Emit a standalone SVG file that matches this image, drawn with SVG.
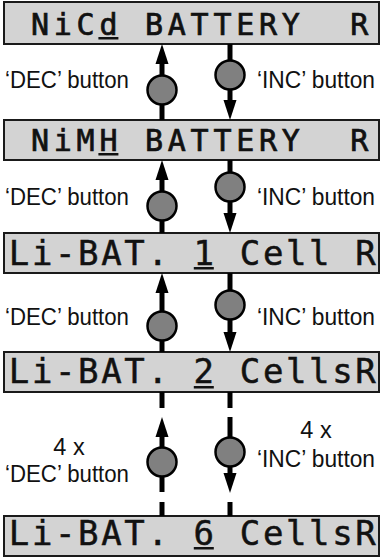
<svg xmlns="http://www.w3.org/2000/svg" width="381" height="557" viewBox="0 0 381 557">
<style>
.box{fill:#d3d3d3;stroke:#1a1a1a;stroke-width:2}
.lcd1{font-family:"DejaVu Sans Mono",monospace;font-size:30px;letter-spacing:4.74px;fill:#111;stroke:#111;stroke-width:0.7}
.lcd2{font-family:"DejaVu Sans Mono",monospace;font-size:34px;letter-spacing:2.63px;fill:#111;stroke:#111;stroke-width:0.5}
.ul{fill:#111}
.lbl{font-family:"Liberation Sans",Arial,sans-serif;font-size:23.5px;fill:#111}
.ln{stroke:#000;stroke-width:5;fill:none}
.btn{fill:#808080;stroke:#000;stroke-width:2.5}
.ah{fill:#000}
</style>
<defs>
<path id="up" d="M0,0 L6.5,20 L-6.5,20 Z"/>
<path id="dn" d="M0,0 L6.5,-20 L-6.5,-20 Z"/>
</defs>

<g id="node-nicd">
<rect class="box" x="4" y="2" width="375" height="42"/>
<text class="lcd1" x="31" y="35">NiCd BATTERY</text>
<text class="lcd1" x="350.2" y="35">R</text>
<rect class="ul" x="98.4" y="37" width="20" height="2.5"/>
</g>

<g id="node-nimh">
<rect class="box" x="4" y="120" width="375" height="40"/>
<text class="lcd1" x="31" y="151">NiMH BATTERY</text>
<text class="lcd1" x="350.2" y="151">R</text>
<rect class="ul" x="98.4" y="153" width="20" height="2.5"/>
</g>

<g id="node-li1">
<rect class="box" x="4" y="233" width="375" height="40"/>
<text class="lcd2" x="8.8" y="265">Li-BAT. 1 Cell R</text>
<rect class="ul" x="193.8" y="267" width="20" height="2.5"/>
</g>

<g id="node-li2">
<rect class="box" x="4" y="352" width="375" height="40"/>
<text class="lcd2" x="8.8" y="383">Li-BAT. 2 CellsR</text>
<rect class="ul" x="193.8" y="386" width="20" height="2.5"/>
</g>

<g id="node-li6">
<rect class="box" x="4" y="516" width="375" height="40"/>
<text class="lcd2" x="8.8" y="545">Li-BAT. 6 CellsR</text>
<rect class="ul" x="193.8" y="547" width="20" height="2.5"/>
</g>

<g id="connectors">
<line class="ln" x1="162" y1="120" x2="162" y2="60"/>
<use href="#up" class="ah" x="162" y="44"/>
<circle class="btn" cx="162" cy="90" r="14.5"/>
<line class="ln" x1="230" y1="44" x2="230" y2="104"/>
<use href="#dn" class="ah" x="230" y="120"/>
<circle class="btn" cx="230" cy="75" r="14.5"/>
<line class="ln" x1="162" y1="233" x2="162" y2="176"/>
<use href="#up" class="ah" x="162" y="160"/>
<circle class="btn" cx="162" cy="206" r="14.5"/>
<line class="ln" x1="230" y1="160" x2="230" y2="217"/>
<use href="#dn" class="ah" x="230" y="233"/>
<circle class="btn" cx="230" cy="187" r="14.5"/>
<line class="ln" x1="162" y1="352" x2="162" y2="289"/>
<use href="#up" class="ah" x="162" y="273"/>
<circle class="btn" cx="162" cy="326" r="14.5"/>
<line class="ln" x1="230" y1="273" x2="230" y2="336"/>
<use href="#dn" class="ah" x="230" y="352"/>
<circle class="btn" cx="230" cy="305" r="14.5"/>
<line class="ln" x1="162" y1="392" x2="162" y2="408"/>
<line class="ln" x1="162" y1="492" x2="162" y2="433"/>
<use href="#up" class="ah" x="162" y="417"/>
<circle class="btn" cx="162" cy="462" r="14.5"/>
<line class="ln" x1="162" y1="502" x2="162" y2="516"/>
<line class="ln" x1="230" y1="392" x2="230" y2="408"/>
<line class="ln" x1="230" y1="417" x2="230" y2="477"/>
<use href="#dn" class="ah" x="230" y="493"/>
<circle class="btn" cx="230" cy="452" r="14.5"/>
<line class="ln" x1="230" y1="502" x2="230" y2="516"/>
</g>

<g id="labels">
<text class="lbl" x="5" y="88" textLength="124" lengthAdjust="spacingAndGlyphs">‘DEC’ button</text>
<text class="lbl" x="257" y="88" textLength="118" lengthAdjust="spacingAndGlyphs">‘INC’ button</text>
<text class="lbl" x="5" y="205" textLength="124" lengthAdjust="spacingAndGlyphs">‘DEC’ button</text>
<text class="lbl" x="257" y="205" textLength="118" lengthAdjust="spacingAndGlyphs">‘INC’ button</text>
<text class="lbl" x="5" y="325" textLength="124" lengthAdjust="spacingAndGlyphs">‘DEC’ button</text>
<text class="lbl" x="257" y="325" textLength="118" lengthAdjust="spacingAndGlyphs">‘INC’ button</text>
<text class="lbl" x="69" y="455" text-anchor="middle">4 x</text>
<text class="lbl" x="5" y="482" textLength="124" lengthAdjust="spacingAndGlyphs">‘DEC’ button</text>
<text class="lbl" x="316" y="438" text-anchor="middle">4 x</text>
<text class="lbl" x="257" y="467" textLength="118" lengthAdjust="spacingAndGlyphs">‘INC’ button</text>
</g>
</svg>
